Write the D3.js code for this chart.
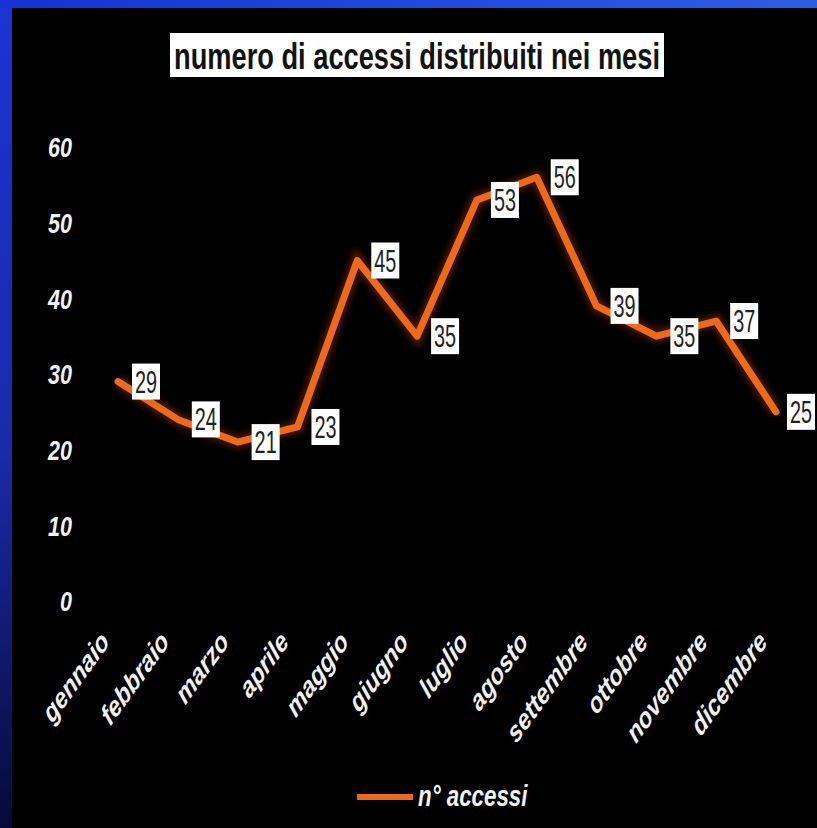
<!DOCTYPE html>
<html>
<head>
  <meta charset="utf-8">
  <script src="https://cdn.jsdelivr.net/npm/d3@7"></script>
  <style>
    body { margin: 0; background: #000; }
    text { font-family: "Liberation Sans", Arial, sans-serif; }
  </style>
</head>
<body>
<div id="chart"></div>
<script>
    // values
    var months = ["gennaio", "febbraio", "marzo", "aprile", "maggio", "giugno",
                  "luglio", "agosto", "settembre", "ottobre", "novembre", "dicembre"];
    var accessi = [29, 24, 21, 23, 45, 35, 53, 56, 39, 35, 37, 25];
    var yTicks = [0, 10, 20, 30, 40, 50, 60];
    var title = "numero di accessi distribuiti nei mesi";
    var seriesName = "n° accessi";

    var width = 817, height = 828;
    var squeeze = 0.77;   // the picture is squashed sideways
    var orange = "#ec6a1c";

    var svg = d3.select("#chart").append("svg")
                .attr("width", width)
                .attr("height", height);

    var defs = svg.append("defs");
    var gl = defs.append("linearGradient").attr("id", "leftBlue")
                 .attr("x1", 0).attr("y1", 0).attr("x2", 0).attr("y2", 1);
    gl.append("stop").attr("offset", "0%").attr("stop-color", "#1b34d4");
    gl.append("stop").attr("offset", "55%").attr("stop-color", "#1a2aa8");
    gl.append("stop").attr("offset", "100%").attr("stop-color", "#050a38");
    var gt = defs.append("linearGradient").attr("id", "topBlue")
                 .attr("x1", 0).attr("y1", 0).attr("x2", 1).attr("y2", 0);
    gt.append("stop").attr("offset", "0%").attr("stop-color", "#1632d2");
    gt.append("stop").attr("offset", "100%").attr("stop-color", "#2c5ee4");
    defs.append("filter").attr("id", "glow")
        .attr("x", "-20%").attr("y", "-20%").attr("width", "140%").attr("height", "140%")
        .append("feGaussianBlur").attr("stdDeviation", 3);

    // background and blue frame
    svg.append("rect").attr("width", width).attr("height", height).attr("fill", "#000");
    svg.append("rect").attr("x", 0).attr("y", 0).attr("width", 12).attr("height", height)
       .attr("fill", "url(#leftBlue)");
    svg.append("rect").attr("x", 0).attr("y", 0).attr("width", width).attr("height", 8)
       .attr("fill", "url(#topBlue)");

    var x = d3.scalePoint().domain(months).range([118, 776]);
    var y = d3.scaleLinear().domain([0, 60]).range([601, 147]);

    // title
    svg.append("rect").attr("x", 170).attr("y", 33).attr("width", 494).attr("height", 44)
       .attr("fill", "#fff");
    svg.append("text").attr("x", 174).attr("y", 69)
       .attr("font-size", 36).attr("font-weight", "bold").attr("fill", "#111")
       .attr("textLength", 486).attr("lengthAdjust", "spacingAndGlyphs")
       .text(title);

    // y axis labels (no axis line in the picture)
    var yAxis = d3.axisLeft(y).tickValues(yTicks).tickSize(0).tickPadding(0);
    var ya = svg.append("g").attr("transform", "translate(72,0)").call(yAxis);
    ya.select(".domain").remove();
    ya.selectAll(".tick text")
      .attr("x", 0).attr("dy", "0.35em")
      .attr("transform", "scale(" + squeeze + ",1)")
      .attr("font-size", 28).attr("font-weight", "bold").attr("font-style", "italic")
      .attr("font-family", "'Liberation Sans', Arial, sans-serif")
      .attr("fill", "#f2f2f2");

    // x axis labels, rotated
    var xAxis = d3.axisBottom(x).tickSize(0).tickPadding(0);
    var xa = svg.append("g").attr("transform", "translate(0,643)").call(xAxis);
    xa.select(".domain").remove();
    xa.selectAll(".tick text")
      .attr("x", 0).attr("y", 0).attr("dy", 0)
      .attr("text-anchor", "end")
      .attr("transform", "translate(-8,0) scale(" + squeeze + ",1) rotate(-47)")
      .attr("font-size", 29).attr("font-weight", "bold").attr("font-style", "italic")
      .attr("font-family", "'Liberation Sans', Arial, sans-serif")
      .attr("fill", "#f0f0f0");

    // line
    var line = d3.line()
                 .x(function(d, i) { return x(months[i]); })
                 .y(function(d) { return y(d); });
    svg.append("path").datum(accessi).attr("d", line)
       .attr("fill", "none").attr("stroke", "#b8420c").attr("stroke-width", 13)
       .attr("stroke-opacity", 0.4).attr("filter", "url(#glow)");
    svg.append("path").datum(accessi).attr("d", line)
       .attr("fill", "none").attr("stroke", orange).attr("stroke-width", 7)
       .attr("stroke-linejoin", "round").attr("stroke-linecap", "round");

    // data labels in white boxes, right of each point
    var lab = svg.append("g").selectAll("g").data(accessi).enter().append("g")
                 .attr("transform", function(d, i) {
                   var lx = Math.min(x(months[i]) + 28, width - 16);
                   return "translate(" + lx + "," + y(d) + ")";
                 });
    lab.append("rect").attr("x", -14).attr("y", -18).attr("width", 28).attr("height", 36)
       .attr("fill", "#fff");
    lab.append("text")
       .attr("transform", "translate(0,11) scale(0.64,1)")
       .attr("text-anchor", "middle")
       .attr("font-size", 31).attr("fill", "#222")
       .text(function(d) { return d; });

    // legend
    svg.append("line").attr("x1", 357).attr("x2", 413).attr("y1", 797).attr("y2", 797)
       .attr("stroke", orange).attr("stroke-width", 6);
    svg.append("text")
       .attr("transform", "translate(418,806) scale(" + squeeze + ",1)")
       .attr("font-size", 29).attr("font-weight", "bold").attr("font-style", "italic")
       .attr("fill", "#f2f2f2")
       .text(seriesName);
</script>
</body>
</html>
